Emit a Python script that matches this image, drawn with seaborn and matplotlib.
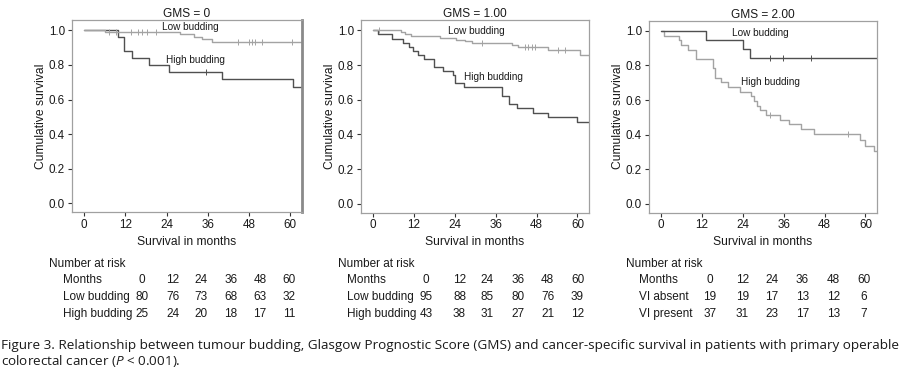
import numpy as np
import pandas as pd
import seaborn as sns
import matplotlib.pyplot as plt

# Kaplan-Meier step points (months, cumulative survival)
gms0_low_t = [0, 6.1, 27.8, 31.9, 34.2, 37.1, 64]
gms0_low_s = [1.0, 0.99, 0.977, 0.963, 0.95, 0.934, 0.934]
gms0_high_t = [0, 10.0, 11.7, 13.9, 19.0, 24.7, 40.0, 60.8, 64]
gms0_high_s = [1.0, 0.96, 0.88, 0.84, 0.80, 0.76, 0.72, 0.675, 0.675]
gms0_low_cens = [7.3, 9.3, 13.7, 15.6, 16.9, 18.2, 20.8, 44.9, 48.0, 48.8, 49.6, 51.9, 60.6]
gms0_high_cens = [35.6]

gms1_low_t = [0, 8.2, 9.5, 11.1, 19.8, 24.5, 27.0, 29.1, 40.7, 42.7, 51.4, 60.7, 64]
gms1_low_s = [1.0, 0.989, 0.979, 0.968, 0.958, 0.947, 0.937, 0.928, 0.915, 0.902, 0.885, 0.857, 0.857]
gms1_high_t = [0, 1.6, 5.5, 8.7, 10.7, 11.7, 13.1, 15.1, 18.0, 20.5, 23.5, 24.0, 26.8,
               38.0, 40.0, 42.3, 47.0, 51.4, 60.0, 64]
gms1_high_s = [1.0, 0.977, 0.953, 0.930, 0.907, 0.884, 0.860, 0.837, 0.790, 0.767, 0.744, 0.697, 0.672,
               0.624, 0.576, 0.550, 0.524, 0.498, 0.472, 0.472]
gms1_low_cens = [1.8, 32.0, 44.6, 45.6, 46.6, 47.6, 54.4, 56.5]
gms1_high_cens = []

gms2_low_t = [0, 13.1, 24.1, 26.0, 64]
gms2_low_s = [1.0, 0.947, 0.894, 0.845, 0.845]
gms2_high_t = [0, 0.9, 5.2, 5.9, 7.9, 10.2, 15.2, 15.9, 17.5, 19.6, 23.2, 26.3, 27.3, 28.3,
               29.2, 30.7, 34.8, 37.7, 41.0, 44.9, 58.4, 60.0, 62.5, 64]
gms2_high_s = [1.0, 0.973, 0.946, 0.919, 0.892, 0.838, 0.784, 0.730, 0.703, 0.676, 0.649, 0.622, 0.595, 0.568,
               0.541, 0.514, 0.486, 0.459, 0.432, 0.405, 0.370, 0.335, 0.307, 0.307]
gms2_low_cens = [31.9, 35.7, 43.9]
gms2_high_cens = [32.0, 55.0]

titles = ["GMS = 0", "GMS = 1.00", "GMS = 2.00"]
x_ticks = [0, 12, 24, 36, 48, 60]
y_ticks = [0.0, 0.2, 0.4, 0.6, 0.8, 1.0]

# number at risk tables
risk_months = [0, 12, 24, 36, 48, 60]
risk_labels = [["Low budding", "High budding"],
               ["Low budding", "High budding"],
               ["VI absent", "VI present"]]
risk_counts = [
    [[80, 76, 73, 68, 63, 32], [25, 24, 20, 18, 17, 11]],
    [[95, 88, 85, 80, 76, 39], [43, 38, 31, 27, 21, 12]],
    [[19, 19, 17, 13, 12, 6], [37, 31, 23, 17, 13, 7]],
]

caption_1 = ("Figure 3. Relationship between tumour budding, Glasgow Prognostic Score (GMS) "
             "and cancer-specific survival in patients with primary operable")
caption_2 = r"colorectal cancer ($\mathit{P}$ < 0.001)."

panels = [
    (gms0_low_t, gms0_low_s, gms0_high_t, gms0_high_s, gms0_low_cens, gms0_high_cens),
    (gms1_low_t, gms1_low_s, gms1_high_t, gms1_high_s, gms1_low_cens, gms1_high_cens),
    (gms2_low_t, gms2_low_s, gms2_high_t, gms2_high_s, gms2_low_cens, gms2_high_cens),
]

sns.set_theme(style="ticks")
plt.rcParams["font.family"] = ["Liberation Sans", "DejaVu Sans"]
plt.rcParams["mathtext.fontset"] = "custom"
plt.rcParams["mathtext.rm"] = "Open Sans"
plt.rcParams["mathtext.it"] = "Open Sans:italic"

DARK = "#505050"
LIGHT = "#a3a3a3"
TXT = "#1a1a1a"
W, H = 900, 370

fig = plt.figure(figsize=(9, 3.7), dpi=100)

# axes boxes in pixels: left, right, top, bottom
boxes = [(72, 302, 20, 212), (361, 589, 20, 212.5), (649, 877, 20.5, 212.5)]
# curve colours per panel (low, high)
colours = [(LIGHT, DARK), (LIGHT, DARK), (DARK, LIGHT)]
# text label anchor positions (months, survival)
label_pos = [((22.7, 1.017), (23.7, 0.828)),
             ((21.9, 0.995), (26.6, 0.732)),
             ((20.8, 0.987), (23.6, 0.704))]


def step_value(t, s, c):
    idx = np.searchsorted(t, c, side="right") - 1
    return np.asarray(s)[idx]


for i, (lt, ls, ht, hs, lc, hc) in enumerate(panels):
    l, r, t, b = boxes[i]
    ax = fig.add_axes([l / W, 1 - b / H, (r - l) / W, (b - t) / H])

    df = pd.concat([
        pd.DataFrame({"months": lt, "survival": ls, "group": "Low budding"}),
        pd.DataFrame({"months": ht, "survival": hs, "group": "High budding"}),
    ])
    pal = {"Low budding": colours[i][0], "High budding": colours[i][1]}
    sns.lineplot(data=df, x="months", y="survival", hue="group", palette=pal,
                 hue_order=["High budding", "Low budding"],
                 drawstyle="steps-post", estimator=None, sort=True,
                 linewidth=1.0, legend=False, ax=ax)

    for cens, tt, ss, col in [(lc, lt, ls, colours[i][0]), (hc, ht, hs, colours[i][1])]:
        if len(cens) == 0:
            continue
        sns.scatterplot(x=cens, y=step_value(tt, ss, cens), marker="|", s=14,
                        color=col, linewidth=0.7, legend=False, ax=ax, zorder=3)

    (lx, ly), (hx, hy) = label_pos[i]
    ax.text(lx, ly, "Low budding", fontsize=7.2, color=TXT, ha="left", va="center")
    ax.text(hx, hy, "High budding", fontsize=7.2, color=TXT, ha="left", va="center")

    ax.set_xlim(-3.5, 63.4)
    ax.set_ylim(-0.05, 1.06)
    ax.set_xticks(x_ticks)
    ax.set_yticks(y_ticks)
    ax.set_xticklabels([str(v) for v in x_ticks])
    ax.set_yticklabels([f"{v:.1f}" for v in y_ticks])
    ax.tick_params(length=3, width=0.8, color="#333333", labelsize=8.4,
                   labelcolor=TXT, pad=2)
    for sp in ax.spines.values():
        sp.set_color("#a0a0a0")
        sp.set_linewidth(0.9)
    if i == 0:
        ax.spines["right"].set_linewidth(2.0)
        ax.spines["right"].set_color("#8a8a8a")
    ax.set_title(titles[i], fontsize=8.6, color=TXT, pad=2)
    ax.set_xlabel("Survival in months", fontsize=8.7, color=TXT, labelpad=3.5)
    ax.set_ylabel("Cumulative survival", fontsize=8.7, color=TXT)
    ax.yaxis.set_label_coords(-0.11, 0.5)

# number at risk tables (pixel layout)
nar_x = [49, 338, 626]
lab_x = [63, 347, 639]
col_x = [[142, 173, 201, 231, 260, 289],
         [426, 459.5, 487.5, 518, 547.5, 577.5],
         [710, 742.3, 771.7, 802.3, 833.3, 863.5]]
row_y = [264, 280, 296.7, 314]
for i in range(3):
    fig.text(nar_x[i] / W, 1 - row_y[0] / H, "Number at risk", fontsize=8.5,
             color=TXT, ha="left", va="center")
    rows = [("Months", risk_months)] + list(zip(risk_labels[i], risk_counts[i]))
    for k, (name, vals) in enumerate(rows):
        y = 1 - row_y[k + 1] / H
        fig.text(lab_x[i] / W, y, name, fontsize=8.5, color=TXT, ha="left", va="center")
        for cx, v in zip(col_x[i], vals):
            fig.text(cx / W, y, str(v), fontsize=8.5, color=TXT, ha="center", va="center")

fig.text(1 / W, 1 - 345 / H, caption_1, fontsize=9.7, color=TXT,
         family="Open Sans", ha="left", va="center")
fig.text(1 / W, 1 - 361 / H, caption_2, fontsize=9.7, color=TXT,
         family="Open Sans", ha="left", va="center")

fig.savefig("out.png", dpi=100)
